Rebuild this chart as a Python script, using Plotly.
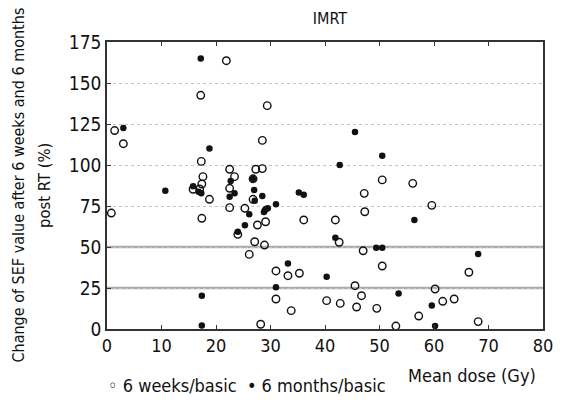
import plotly.graph_objects as go

# 6 weeks / basic (open circles)
weeks_x = [0.8, 1.4, 3.0, 15.8, 17.2, 17.3, 17.6, 17.4, 17.0, 18.8, 17.4, 21.9, 29.4, 28.5,
           22.5, 23.4, 22.5, 22.5, 27.3, 28.5, 26.8, 26.8, 25.3, 29.1, 27.6, 24.0, 27.1, 28.9,
           26.1, 31.0, 33.2, 35.3, 31.0, 33.8, 28.2, 36.1, 50.5, 47.2, 47.3, 41.9, 42.6, 47.0,
           50.5, 45.5, 46.7, 40.3, 42.8, 45.8, 49.5, 53.0, 56.1, 59.6, 66.4, 60.2, 61.6, 63.7,
           57.2, 68.1]
weeks_y = [70.7, 121, 113, 85.2, 142.5, 102.2, 92.9, 88.4, 85.4, 79.1, 67.5, 163.6, 136.2, 115,
           97.4, 92.9, 85.8, 74.0, 97.4, 97.8, 91.6, 79.1, 73.6, 65.4, 63.4, 57.7, 53.2, 51.2,
           45.5, 35.4, 32.5, 34.0, 18.3, 11.2, 2.9, 66.5, 90.9, 82.7, 71.5, 66.5, 52.9, 47.7,
           38.4, 26.4, 20.3, 17.3, 15.6, 13.4, 12.6, 1.8, 88.8, 75.4, 34.6, 24.4, 16.9, 18.3,
           7.9, 4.5]

# 6 months / basic (filled circles)
months_x = [3.0, 10.7, 15.8, 17.2, 18.8, 16.8, 17.3, 17.4, 17.4, 22.7, 23.4, 22.5, 26.8, 27.0,
            28.5, 27.1, 26.1, 28.8, 29.0, 29.2, 29.5, 31.0, 25.3, 24.0, 33.2, 31.0, 35.2, 36.1,
            45.5, 50.5, 42.7, 41.9, 49.4, 50.5, 40.3, 53.5, 56.4, 68.1, 59.6, 60.2]
months_y = [122.5, 84.3, 87.0, 165, 110, 83.7, 82.7, 20.3, 2.2, 90.2, 82.7, 80.7, 91.6, 84.8,
            81.1, 78.2, 69.9, 71.3, 72.6, 73.2, 73.6, 76.0, 63.2, 59.3, 40.0, 25.4, 83.2, 81.9,
            120.1, 105.7, 100, 55.7, 49.6, 49.6, 31.9, 21.7, 66.5, 45.7, 14.4, 1.8]

x_ticks = [0, 10, 20, 30, 40, 50, 60, 70, 80]
y_ticks = [0, 25, 50, 75, 100, 125, 150, 175]
ref_lines = [25, 50]

FONT = "DejaVu Sans Condensed, Roboto, Arial, sans-serif"

fig = go.Figure()
fig.add_trace(go.Scatter(
    x=weeks_x, y=weeks_y, mode="markers", name="6 weeks/basic",
    marker=dict(symbol="circle-open", size=7.5, color="#111", line=dict(width=1.4, color="#111")),
    showlegend=False))
fig.add_trace(go.Scatter(
    x=months_x, y=months_y, mode="markers", name="6 months/basic",
    marker=dict(symbol="circle", size=6.5, color="#111"),
    showlegend=False))

for r in ref_lines:
    fig.add_shape(type="line", xref="paper", x0=0, x1=1, yref="y", y0=r, y1=r,
                  line=dict(color="#aaaaaa", width=2.5), layer="below")

fig.update_layout(
    width=564, height=402,
    margin=dict(l=107, r=11, t=42, b=73),
    paper_bgcolor="white", plot_bgcolor="white",
    font=dict(family=FONT, size=17, color="#111"),
    title=dict(text="IMRT", x=(107 + 553) / 2 / 564, xanchor="center", y=1 - 18 / 402,
               yanchor="middle", font=dict(size=16, family=FONT, color="#111")),
)
fig.update_xaxes(
    range=[0, 80], tickvals=x_ticks, ticks="inside", ticklen=4, tickcolor="#333",
    showline=True, linecolor="#333", linewidth=1.5, mirror="ticks",
    showgrid=False, zeroline=False, tickfont=dict(size=18, family=FONT),
    ticklabelstandoff=0)
fig.update_yaxes(
    range=[0, 175], tickvals=y_ticks, ticks="inside", ticklen=4, tickcolor="#333",
    showline=True, linecolor="#333", linewidth=1.5, mirror=True,
    showgrid=True, gridcolor="#c4c4c4", griddash="dot", gridwidth=1,
    zeroline=False, tickfont=dict(size=19, family=FONT))

fig.add_annotation(
    text="Change of SEF value after 6 weeks and 6 months",
    xref="paper", yref="paper", x=(16 - 107) / 446, y=0.5, textangle=-90,
    showarrow=False, xanchor="center", yanchor="middle",
    font=dict(size=16, family=FONT, color="#111"))
fig.add_annotation(
    text="post RT (%)",
    xref="paper", yref="paper", x=(43 - 107) / 446, y=0.5, textangle=-90,
    showarrow=False, xanchor="center", yanchor="middle",
    font=dict(size=16.5, family=FONT, color="#111"))
fig.add_annotation(
    text="Mean dose (Gy)", xref="paper", yref="paper",
    x=(548 - 107) / 446, y=-(375 - 329) / 287, xanchor="right", yanchor="middle",
    showarrow=False, font=dict(size=18, family=FONT, color="#111"))
fig.add_annotation(
    text="◦ 6 weeks/basic  • 6 months/basic", xref="paper", yref="paper",
    x=(106 - 107) / 446, y=-(385 - 329) / 287, xanchor="left", yanchor="middle",
    showarrow=False, font=dict(size=18, family=FONT, color="#111"))

fig.write_html("out.html")
